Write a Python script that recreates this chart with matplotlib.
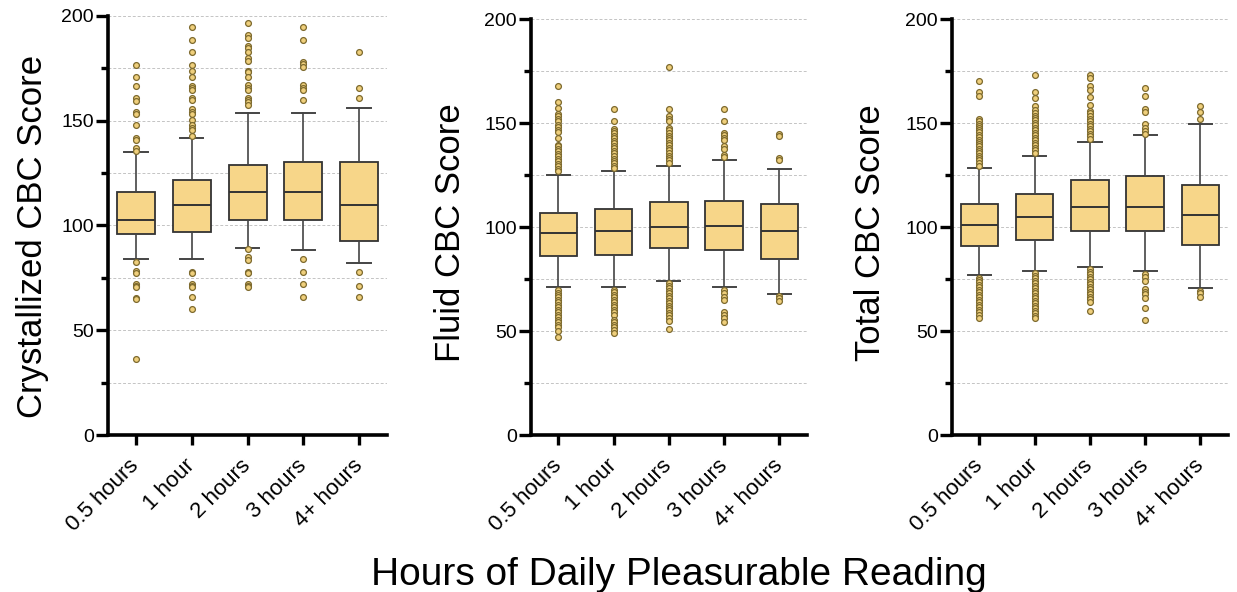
import matplotlib
matplotlib.use('Agg')
import matplotlib.pyplot as plt

plt.rcParams['font.family'] = ['Liberation Sans', 'DejaVu Sans']

groups = ['0.5 hours', '1 hour', '2 hours', '3 hours', '4+ hours']

# crystallized CBC
cryst_q1 = [95.8, 96.7, 102.8, 102.8, 92.6]
cryst_med = [102.8, 110.0, 115.8, 115.8, 110.0]
cryst_q3 = [115.8, 121.7, 128.7, 130.5, 130.2]
cryst_lo = [84.0, 84.0, 89.1, 88.3, 81.9]
cryst_hi = [134.9, 141.9, 153.8, 153.8, 155.9]
cryst_fliers = [
    [176.6, 170.7, 166.7, 160.7, 159.5, 154.3, 153.4, 148.0, 141.9, 140.8, 136.8, 135.5,
     82.7, 78.4, 77.5, 72.1, 71.1, 70.5, 65.6, 64.8, 36.1],
    [194.6, 188.7, 182.6, 176.6, 173.7, 170.7, 166.7, 165.5, 164.7, 161.0, 159.7, 155.6,
     154.3, 153.4, 150.3, 148.0, 146.7, 145.6, 142.9,
     78.0, 77.5, 72.1, 71.1, 70.5, 66.0, 60.0],
    [196.8, 190.9, 189.6, 185.8, 184.5, 182.6, 179.8, 178.5, 173.9, 173.1, 170.7, 167.0,
     165.8, 164.7, 160.7, 159.7, 158.8, 157.5,
     88.6, 84.8, 83.5, 78.0, 77.5, 72.1, 71.3, 70.5],
    [194.6, 188.7, 178.2, 176.9, 175.8, 167.0, 165.8, 164.7, 159.7,
     84.0, 78.0, 72.1, 66.0],
    [182.6, 165.8, 160.8, 78.0, 71.1, 66.0],
]

# fluid CBC
fluid_q1 = [86.0, 86.8, 89.8, 89.2, 84.8]
fluid_med = [97.0, 98.2, 99.9, 100.6, 98.2]
fluid_q3 = [107.0, 108.9, 112.0, 112.7, 111.0]
fluid_lo = [71.1, 71.1, 74.1, 71.1, 67.7]
fluid_hi = [125.0, 127.2, 129.3, 132.2, 128.2]
fluid_fliers = [
    [168.1, 160.2, 157.4, 154.6, 153.3, 152.2, 151.3, 149.3, 148.2, 146.9, 145.8, 142.9,
     139.7, 138.9, 137.6, 136.5, 135.4, 134.1, 132.8, 131.7, 130.6, 129.3, 128.0, 126.9,
     69.8, 68.5, 67.4, 66.2, 65.0, 63.8, 62.6, 61.4, 60.1, 59.0, 57.7, 56.6, 55.3, 54.2,
     52.9, 51.8, 50.0, 47.0],
    [157.0, 150.9, 147.4, 146.2, 145.1, 143.8, 142.7, 141.4, 140.3, 139.0, 137.9, 136.6,
     135.5, 134.2, 132.9, 131.8, 130.7, 129.4, 128.3,
     69.8, 68.7, 67.4, 66.2, 65.0, 63.8, 62.6, 61.4, 60.1, 59.0, 57.7, 55.3, 54.2, 52.9,
     51.8, 50.5, 49.2],
    [177.1, 157.0, 153.3, 152.2, 151.3, 147.7, 146.6, 145.3, 144.0, 142.9, 141.8, 140.5,
     139.4, 138.1, 137.0, 135.7, 134.4, 133.3, 132.2, 130.9,
     73.0, 71.9, 70.6, 69.5, 68.2, 67.1, 65.8, 64.7, 63.4, 62.3, 61.0, 59.9, 58.6, 57.5,
     56.2, 55.0, 51.0],
    [157.0, 150.9, 145.3, 144.2, 142.9, 141.8, 138.9, 137.8, 134.9, 133.8,
     69.8, 68.2, 66.6, 65.0, 59.3, 57.7, 56.1, 54.5],
    [144.8, 143.7, 133.3, 132.2, 66.9, 65.8, 64.6],
]

# total CBC
total_q1 = [90.8, 94.0, 98.0, 98.0, 91.4]
total_med = [100.9, 104.9, 109.9, 109.9, 105.9]
total_q3 = [111.0, 115.8, 122.7, 124.5, 120.3]
total_lo = [77.0, 79.1, 81.0, 78.9, 70.6]
total_hi = [128.3, 134.1, 141.2, 144.1, 149.4]
total_fliers = [
    [170.1, 164.8, 163.2, 152.1, 151.0, 149.8, 148.9, 147.8, 146.6, 145.7, 144.5, 143.4,
     142.1, 141.0, 139.9, 138.9, 137.8, 136.7, 135.7, 134.4, 133.3, 132.2, 130.9, 129.6,
     75.7, 74.6, 73.5, 72.2, 71.1, 69.8, 68.7, 67.4, 66.3, 65.0, 63.9, 62.6, 61.4, 60.2,
     59.0, 57.7, 56.1],
    [173.1, 165.1, 162.2, 158.2, 156.6, 155.0, 153.7, 152.6, 151.5, 150.2, 149.1, 147.8,
     146.7, 145.4, 144.1, 143.0, 141.9, 140.6, 139.3, 138.2, 137.1, 135.8,
     77.8, 76.7, 75.4, 74.3, 73.0, 71.9, 70.6, 69.5, 68.2, 67.0, 65.8, 64.6, 63.4, 62.2,
     61.0, 59.8, 58.5, 57.4, 56.1],
    [173.4, 171.8, 167.8, 166.2, 162.7, 159.0, 155.8, 154.7, 153.4, 152.1, 151.0, 149.8,
     148.6, 147.3, 146.2, 145.0, 143.7, 142.5,
     79.9, 78.6, 77.5, 76.2, 75.1, 73.8, 72.7, 71.4, 70.3, 69.0, 67.9, 66.6, 65.4, 64.2,
     59.7],
    [167.0, 163.0, 156.9, 155.3, 149.4, 147.8, 146.2, 145.0,
     77.3, 75.9, 74.3, 70.2, 69.0, 67.9, 65.8, 61.3, 55.2],
    [158.2, 155.3, 152.1, 69.3, 68.2, 66.6],
]

panels = [
    ('Crystallized CBC Score', cryst_q1, cryst_med, cryst_q3, cryst_lo, cryst_hi, cryst_fliers),
    ('Fluid CBC Score', fluid_q1, fluid_med, fluid_q3, fluid_lo, fluid_hi, fluid_fliers),
    ('Total CBC Score', total_q1, total_med, total_q3, total_lo, total_hi, total_fliers),
]

rects = [[0.0873, 0.2652, 0.2256, 0.7078],
         [0.4290, 0.2652, 0.2234, 0.7022],
         [0.7694, 0.2652, 0.2234, 0.7022]]
label_x = [-0.211, -0.230, -0.234]
label_y = [0.475, 0.486, 0.486]

box_fc = '#F7D689'
edge = '#333333'

fig = plt.figure(figsize=(12.37, 5.92), dpi=100)

for i, (ylab, q1, med, q3, lo, hi, fl) in enumerate(panels):
    ax = fig.add_axes(rects[i])
    stats = []
    for k in range(len(groups)):
        stats.append(dict(label=groups[k], q1=q1[k], med=med[k], q3=q3[k],
                          whislo=lo[k], whishi=hi[k], fliers=fl[k]))
    ax.bxp(stats, positions=range(1, 6), widths=0.68, capwidths=0.42,
           patch_artist=True, showfliers=True,
           boxprops=dict(facecolor=box_fc, edgecolor=edge, linewidth=1.3),
           medianprops=dict(color=edge, linewidth=1.4),
           whiskerprops=dict(color='#444444', linewidth=1.2),
           capprops=dict(color='#444444', linewidth=1.4),
           flierprops=dict(marker='o', markersize=4.2, markerfacecolor='#EFCF7C',
                           markeredgecolor='#7d6a2e', markeredgewidth=0.9))
    ax.set_xlim(0.5, 5.5)
    ax.set_ylim(0, 200)
    ax.set_yticks([0, 50, 100, 150, 200])
    ax.set_yticks([25, 75, 125, 175], minor=True)
    ax.set_xticks(range(1, 6))
    ax.set_xticklabels(groups, rotation=45, ha='right', va='center',
                       rotation_mode='anchor', fontsize=16)
    ax.tick_params(axis='y', which='major', length=9, width=2.4, labelsize=14, pad=1)
    ax.tick_params(axis='y', which='minor', length=5, width=2.4)
    ax.tick_params(axis='x', length=7, width=2.4, pad=13)
    ax.grid(axis='y', which='both', linestyle=(0, (3, 2)), color='#c4c4c4', linewidth=0.7)
    ax.set_axisbelow(True)
    for s in ['top', 'right']:
        ax.spines[s].set_visible(False)
    for s in ['left', 'bottom']:
        ax.spines[s].set_linewidth(2.6)
        ax.spines[s].set_color('black')
    ax.set_ylabel(ylab, fontsize=25)
    ax.yaxis.set_label_coords(label_x[i], label_y[i])

fig.text(679 / 1237, 1 - 585 / 592, 'Hours of Daily Pleasurable Reading',
         fontsize=28, ha='center', va='baseline')

fig.savefig('out.png', dpi=100)
